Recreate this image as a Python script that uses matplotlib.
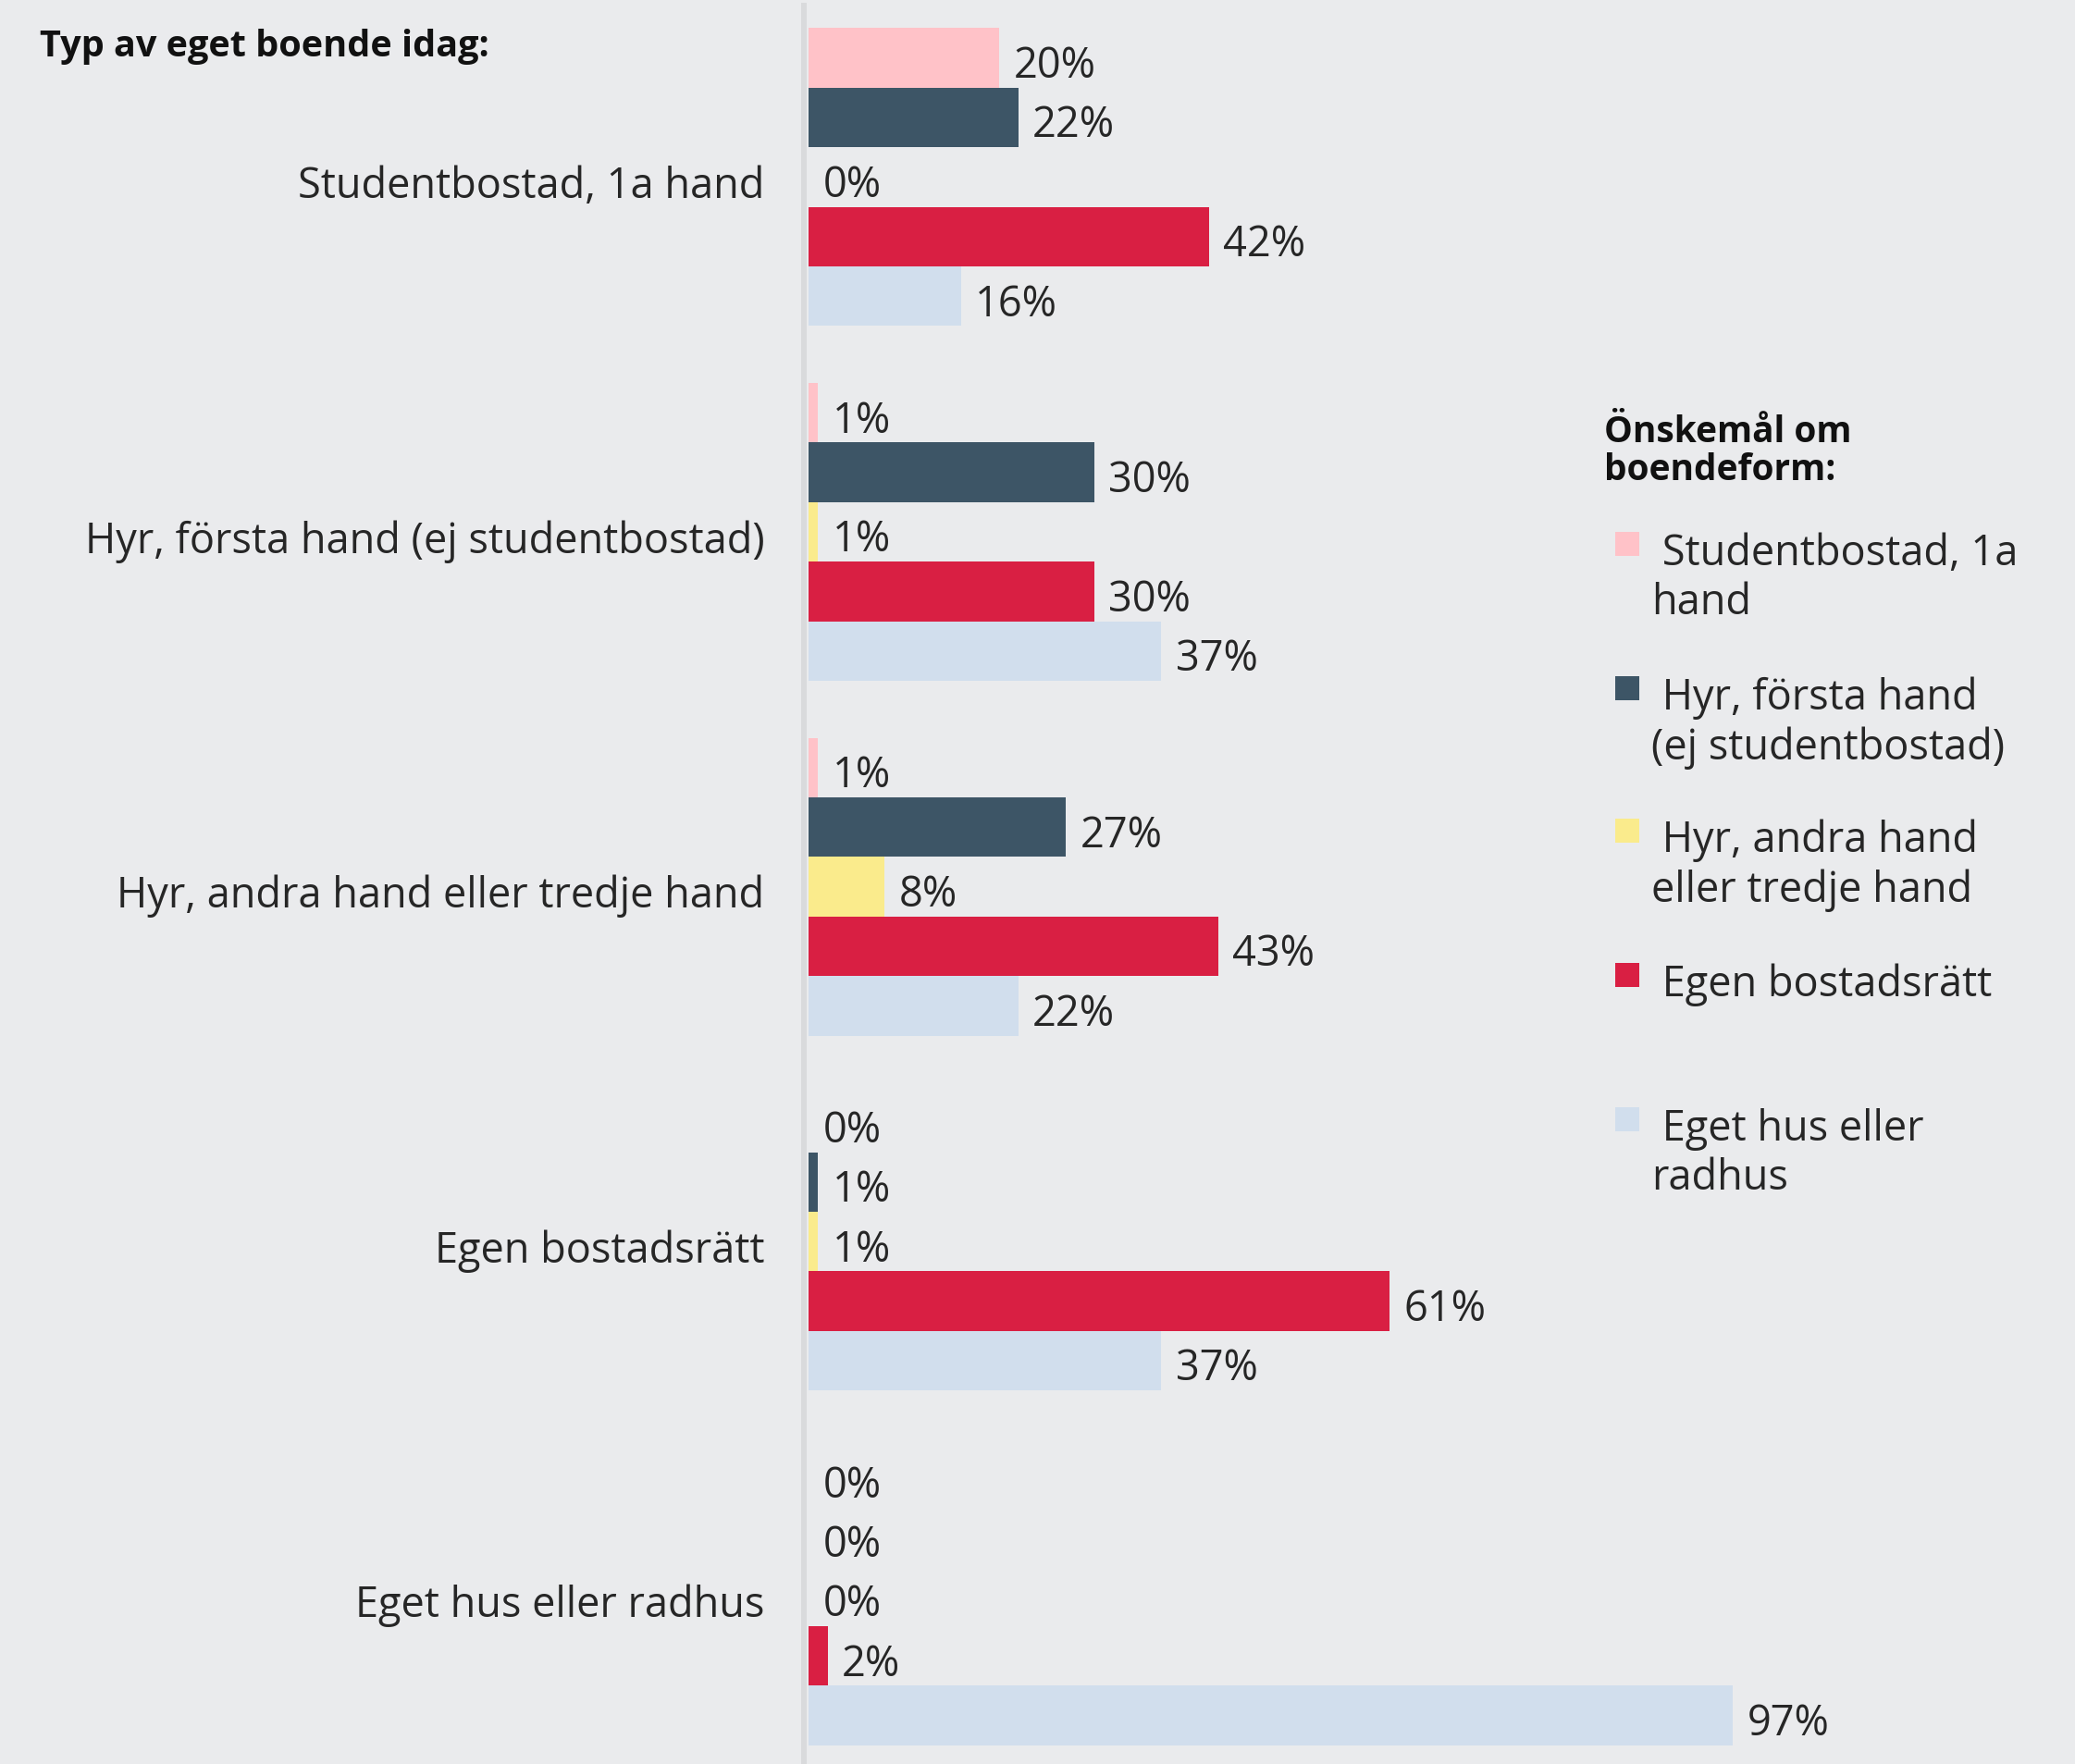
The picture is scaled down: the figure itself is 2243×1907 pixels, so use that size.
import matplotlib
matplotlib.use("Agg")
import matplotlib.pyplot as plt
from matplotlib.patches import Rectangle
from matplotlib.lines import Line2D
import numpy as np

# Current housing type (one group of bars each)
categories = [
    "Studentbostad, 1a hand",
    "Hyr, första hand (ej studentbostad)",
    "Hyr, andra hand eller tredje hand",
    "Egen bostadsrätt",
    "Eget hus eller radhus",
]

# Desired housing form (one bar per series within each group), in percent
series_names = [
    " Studentbostad, 1a\nhand",
    " Hyr, första hand\n(ej studentbostad)",
    " Hyr, andra hand\neller tredje hand",
    " Egen bostadsrätt\n",
    " Eget hus eller\nradhus",
]
studentbostad = [20, 1, 1, 0, 0]
hyr_forsta = [22, 30, 27, 1, 0]
hyr_andra = [0, 1, 8, 1, 0]
egen_br = [42, 30, 43, 61, 2]
eget_hus = [16, 37, 22, 37, 97]
series_values = [studentbostad, hyr_forsta, hyr_andra, egen_br, eget_hus]

colors = ["#FFC2C8", "#3D5566", "#FAEB8C", "#D91F43", "#D1DEED"]

title = "Typ av eget boende idag:"
legend_title = "Önskemål om\nboendeform:"

BG = "#EAEBED"
TEXT = "#262626"
FONT = ["Open Sans", "DejaVu Sans"]
FS = 32.5

W, H, DPI = 2243, 1908, 100
fig = plt.figure(figsize=(W / DPI, H / DPI), dpi=DPI, facecolor=BG)

ax_left = 874 / W
ax_width = 1030 / W
ax = fig.add_axes([ax_left, 0.0, ax_width, 1.0])
ax.set_facecolor(BG)

bar_h = 0.1678
n_series = len(series_values)
group_pos = np.arange(len(categories))

for j, (vals, col) in enumerate(zip(series_values, colors)):
    ys = group_pos + (j - (n_series - 1) / 2) * bar_h
    ax.barh(ys, vals, height=bar_h, color=col, edgecolor="none")
    for y, v in zip(ys, vals):
        ax.text(v + 1.5, y + 0.022, f"{v}%", va="center", ha="left",
                fontsize=FS, color=TEXT, family=FONT)

ax.set_xlim(0, 100)
ax.set_ylim(4.472, -0.5016)
ax.axis("off")

# Category labels to the left of the bars
for y, lab in zip(group_pos, categories):
    ax.text(-4.6, y + 0.024, lab, ha="right", va="center", fontsize=FS,
            color=TEXT, family=FONT)

# Vertical baseline separating labels from bars
fig.add_artist(Line2D([869 / W, 869 / W], [0, 1 - 4 / H],
                      transform=fig.transFigure, color="#D9DADC",
                      linewidth=4.3, solid_capstyle="butt"))

# Chart heading
fig.text(43 / W, 1 - 50 / H, title, ha="left", va="center",
         fontsize=28.5, fontweight="bold", color="#111111", family=FONT)

# Legend drawn by hand
fig.text(1734 / W, 1 - 488 / H, legend_title, ha="left", va="center",
         fontsize=28, fontweight="bold", color="#111111", family=FONT,
         linespacing=1.08)

entry_y = [594, 750, 904, 1060, 1216]
for name, col, yp in zip(series_names, colors, entry_y):
    fig.add_artist(Rectangle((1746 / W, 1 - (yp + 8) / H), 26 / W, 26 / H,
                             transform=fig.transFigure, facecolor=col,
                             edgecolor="none"))
    fig.text(1785 / W, 1 - (yp - 18) / H, name, ha="left", va="top",
             fontsize=FS, color=TEXT, family=FONT, linespacing=1.2)

fig.savefig("out.png", dpi=DPI, facecolor=BG)
